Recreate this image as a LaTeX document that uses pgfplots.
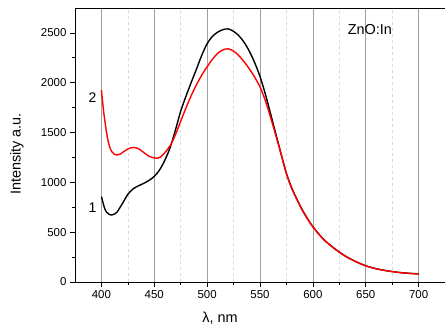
\documentclass[border=0pt]{standalone}
\usepackage{pgfplots}
\pgfplotsset{compat=1.18}
\usepackage{fontspec}
\setmainfont{Liberation Sans}
\pgfplotstableread{
x y
400 857
403 740
405 700
408 675
410 673
413 685
415 705
420 790
425 880
430 935
435 965
440 990
445 1020
450 1060
455 1125
460 1222
465 1350
470 1525
475 1715
480 1865
485 2005
490 2140
495 2278
500 2392
505 2465
510 2508
515 2533
520 2540
525 2515
530 2472
535 2405
540 2315
545 2200
550 2063
555 1888
560 1690
565 1485
570 1285
575 1090
580 945
585 830
590 725
595 635
600 555
610 430
620 340
630 265
640 208
650 163
660 133
670 113
680 98
690 88
700 82
}\blackdata
\pgfplotstableread{
x y
400 1928
402 1720
404 1560
406 1430
408 1350
410 1305
413 1278
415 1275
418 1285
420 1300
425 1335
430 1350
435 1338
440 1300
445 1262
450 1245
453 1242
456 1255
460 1298
465 1368
470 1478
475 1615
480 1748
485 1872
490 1982
495 2078
500 2160
505 2236
510 2295
515 2330
520 2340
525 2318
530 2272
535 2210
540 2138
545 2055
550 1958
555 1822
560 1652
565 1470
570 1280
575 1085
580 940
585 825
590 720
595 632
600 553
610 428
620 338
630 264
640 207
650 162
660 132
670 112
680 97
690 87
700 80
}\reddata
\begin{document}
\begin{tikzpicture}
\useasboundingbox (-75bp,-44bp) rectangle (370bp,282bp);
\begin{axis}[
  at={(0,0)}, anchor=south west,
  scale only axis, width=370bp, height=274bp,
  xmin=375, xmax=725, ymin=0, ymax=2750,
  axis x line*=box, axis y line*=left,
  axis line style={-, line width=0.8pt},
  tick pos=left, tick align=outside,
  major tick length=5bp, minor tick length=3bp,
  every tick/.style={black, line width=0.7pt},
  xtick={400,450,...,700}, ytick={0,500,...,2500},
  minor x tick num=1, minor y tick num=1,
  xmajorgrids, xminorgrids,
  major x grid style={gray!75, line width=0.6pt},
  minor x grid style={gray!30, dashed, line width=0.5pt},
  /pgf/number format/assume math mode=true,
  /pgf/number format/1000 sep={},
  xticklabel style={font=\fontsize{11.5}{13}\selectfont},
  yticklabel style={font=\fontsize{11.5}{13}\selectfont},
  xlabel={λ, nm}, ylabel={Intensity a.u.},
  xlabel style={font=\fontsize{14.5}{16}\selectfont, at={(axis description cs:0.392,-0.131)}, anchor=center},
  ylabel style={font=\fontsize{14.5}{16}\selectfont, at={(axis description cs:-0.157,0.467)}, anchor=center},
  clip=false,
]
\addplot[black, line width=1.4pt, smooth] table[x=x,y=y] {\blackdata};
\addplot[red, line width=1.4pt, smooth] table[x=x,y=y] {\reddata};
\node[font=\fontsize{14}{16}\selectfont] at (axis cs:391.5,750) {1};
\node[font=\fontsize{14}{16}\selectfont] at (axis cs:391.5,1854) {2};
\node[font=\fontsize{14.5}{16}\selectfont] at (axis cs:654,2530) {ZnO:In};
\end{axis}
\end{tikzpicture}
\end{document}
